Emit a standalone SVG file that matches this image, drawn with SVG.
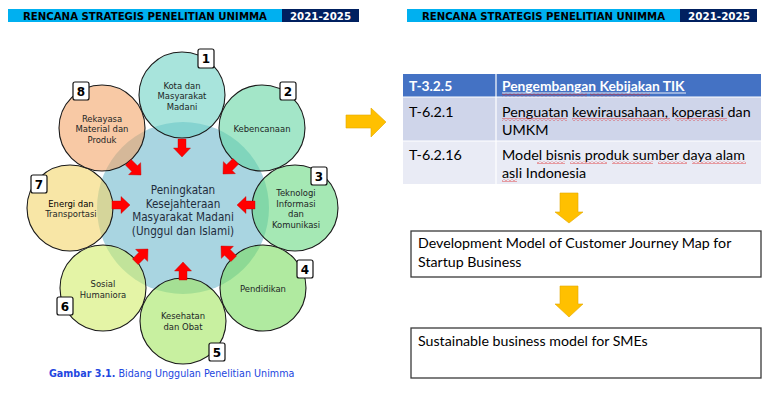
<svg xmlns="http://www.w3.org/2000/svg" width="767" height="397" viewBox="0 0 767 397">
  <style>
    .hdr-l { fill: #00b0f0; }
    .hdr-d { fill: #002060; }
    .hdr-t { font-family: "DejaVu Sans", Verdana, sans-serif; font-weight: bold; font-size: 9.8px; fill: #000; }
    .hdr-y { font-family: "DejaVu Sans", Verdana, sans-serif; font-weight: bold; font-size: 10px; fill: #fff; }
    .sat { stroke: #1a1a1a; stroke-width: 1.1; fill-opacity: 0.6; }
    .lbl { font-family: "DejaVu Sans Condensed", "DejaVu Sans", sans-serif; font-size: 9.4px; fill: #1c2626; text-anchor: middle; }
    .ctr { font-family: "DejaVu Sans Condensed", "DejaVu Sans", sans-serif; font-size: 11.6px; fill: #1f2d3d; text-anchor: middle; }
    .badge { fill: #fff; stroke: #111; stroke-width: 1.2; }
    .num { font-family: "DejaVu Sans", sans-serif; font-weight: bold; font-size: 12px; fill: #000; text-anchor: middle; }
    .red { fill: #ff0000; stroke: #c00000; stroke-width: 0.4; }
    .gold { fill: #ffc000; stroke: #e3a800; stroke-width: 0.6; }
    .cap { font-family: "DejaVu Sans", sans-serif; font-size: 9.6px; fill: #2346e0; }
    .tb { font-family: Lato, "Open Sans", sans-serif; font-size: 14.3px; fill: #000; }
    .tbh { font-family: Lato, "Open Sans", sans-serif; font-size: 13.8px; font-weight: bold; fill: #fff; }
    .box { fill: #fff; stroke: #3a3a3a; stroke-width: 1.3; }
    .bt { font-family: Lato, "Open Sans", sans-serif; font-size: 14.2px; fill: #000; }
  </style>
  <defs>
    <!-- inward block arrow, tip at origin, pointing +x -->
    <path id="arw" d="M0,0 L-9,-8.5 L-9,-4 L-18,-4 L-18,4 L-9,4 L-9,8.5 Z"/>
    <!-- spell-check squiggle -->
    <pattern id="squig" width="4" height="3" patternUnits="userSpaceOnUse">
      <path d="M0,2.5 L2,0.5 L4,2.5" fill="none" stroke="#e02020" stroke-width="0.8"/>
    </pattern>
  </defs>

  <!-- left header bar -->
  <g id="header-left">
    <rect class="hdr-l" x="8" y="9" width="274" height="13"/>
    <rect class="hdr-d" x="282" y="9" width="77" height="13"/>
    <text class="hdr-t" x="23" y="19.5" textLength="244" lengthAdjust="spacingAndGlyphs">RENCANA STRATEGIS PENELITIAN UNIMMA</text>
    <text class="hdr-y" x="290" y="19.5" textLength="61" lengthAdjust="spacingAndGlyphs">2021-2025</text>
  </g>

  <!-- right header bar -->
  <g id="header-right">
    <rect class="hdr-l" x="407" y="9" width="273" height="13"/>
    <rect class="hdr-d" x="680" y="9" width="77" height="13"/>
    <text class="hdr-t" x="422" y="19.5" textLength="243" lengthAdjust="spacingAndGlyphs">RENCANA STRATEGIS PENELITIAN UNIMMA</text>
    <text class="hdr-y" x="688" y="19.5" textLength="62" lengthAdjust="spacingAndGlyphs">2021-2025</text>
  </g>

  <!-- central focus -->
  <g id="center">
    <circle cx="183" cy="208" r="86" fill="#a9d5e1"/>
    <text class="ctr" x="183" y="194">Peningkatan</text>
    <text class="ctr" x="183" y="207.5">Kesejahteraan</text>
    <text class="ctr" x="183" y="221">Masyarakat Madani</text>
    <text class="ctr" x="183" y="234.5">(Unggul dan Islami)</text>
  </g>

  <!-- research fields -->
  <g id="field-1">
    <circle class="sat" cx="182" cy="95" r="43" fill="#6ed2c5"/>
    <text class="lbl" x="182" y="88.5">Kota dan</text>
    <text class="lbl" x="182" y="99">Masyarakat</text>
    <text class="lbl" x="182" y="110">Madani</text>
    <rect class="badge" x="198" y="49" width="16" height="19" rx="2"/>
    <text class="num" x="206" y="63">1</text>
  </g>
  <g id="field-2">
    <circle class="sat" cx="262" cy="128" r="43" fill="#66d5a3"/>
    <text class="lbl" x="262" y="131.5">Kebencanaan</text>
    <rect class="badge" x="280" y="82" width="16" height="18" rx="2"/>
    <text class="num" x="288" y="95.5">2</text>
  </g>
  <g id="field-3">
    <circle class="sat" cx="295" cy="208" r="43" fill="#69d982"/>
    <text class="lbl" x="296" y="196">Teknologi</text>
    <text class="lbl" x="296" y="206.5">Informasi</text>
    <text class="lbl" x="296" y="217">dan</text>
    <text class="lbl" x="296" y="228">Komunikasi</text>
    <rect class="badge" x="311" y="167" width="16" height="18" rx="2"/>
    <text class="num" x="319" y="180.5">3</text>
  </g>
  <g id="field-4">
    <circle class="sat" cx="263" cy="288" r="43" fill="#7bdc61"/>
    <text class="lbl" x="263" y="291.5">Pendidikan</text>
    <rect class="badge" x="297" y="260" width="16" height="18" rx="2"/>
    <text class="num" x="305" y="273.5">4</text>
  </g>
  <g id="field-5">
    <circle class="sat" cx="183" cy="321" r="43" fill="#a3e661"/>
    <text class="lbl" x="183" y="318.5">Kesehatan</text>
    <text class="lbl" x="183" y="330">dan Obat</text>
    <rect class="badge" x="209" y="343" width="16" height="18" rx="2"/>
    <text class="num" x="217" y="356.5">5</text>
  </g>
  <g id="field-6">
    <circle class="sat" cx="103" cy="288" r="43" fill="#d2ed6b"/>
    <text class="lbl" x="103" y="286.5">Sosial</text>
    <text class="lbl" x="103" y="297.5">Humaniora</text>
    <rect class="badge" x="57" y="297" width="16" height="18" rx="2"/>
    <text class="num" x="65" y="310.5">6</text>
  </g>
  <g id="field-7">
    <circle class="sat" cx="70" cy="208" r="43" fill="#f3d56b"/>
    <text class="lbl" x="71" y="206.5" style="fill:#000">Energi dan</text>
    <text class="lbl" x="71" y="217">Transportasi</text>
    <rect class="badge" x="31" y="175" width="16" height="18" rx="2"/>
    <text class="num" x="39" y="188.5">7</text>
  </g>
  <g id="field-8">
    <circle class="sat" cx="102" cy="128" r="43" fill="#f3a569"/>
    <text class="lbl" x="102" y="121.5">Rekayasa</text>
    <text class="lbl" x="102" y="132">Material dan</text>
    <text class="lbl" x="102" y="142.5">Produk</text>
    <rect class="badge" x="73" y="82" width="16" height="18" rx="2"/>
    <text class="num" x="81" y="95.5">8</text>
  </g>

  <!-- arrows from each field into the centre -->
  <g id="connectors">
    <use href="#arw" class="red" transform="translate(182,157) rotate(90)"/>
    <use href="#arw" class="red" transform="translate(223,174) rotate(135)"/>
    <use href="#arw" class="red" transform="translate(237,205) rotate(180)"/>
    <use href="#arw" class="red" transform="translate(221,246) rotate(-135)"/>
    <use href="#arw" class="red" transform="translate(183,262) rotate(-90)"/>
    <use href="#arw" class="red" transform="translate(148,249) rotate(-45)"/>
    <use href="#arw" class="red" transform="translate(130,205) rotate(0)"/>
    <use href="#arw" class="red" transform="translate(141,175) rotate(45)"/>

    <!-- link to the roadmap -->
    <path class="gold" d="M346,115 L371,115 L371,108 L386,122 L371,137 L371,128 L346,128 Z"/>
    <!-- roadmap flow -->
    <path class="gold" d="M560,193 L578,193 L578,212 L583,212 L569,223 L555,212 L560,212 Z"/>
    <path class="gold" d="M560,286 L578,286 L578,304 L583,304 L569,317 L555,304 L560,304 Z"/>
  </g>

  <!-- caption -->
  <text class="cap" x="49" y="377"><tspan font-weight="bold">Gambar 3.1.</tspan> Bidang Unggulan Penelitian Unimma</text>

  <!-- strategy table -->
  <g id="strategy-table">
    <rect x="403" y="74" width="358" height="23" fill="#4472c4"/>
    <rect x="403" y="97" width="358" height="44" fill="#cfd5ea"/>
    <rect x="403" y="141" width="358" height="43" fill="#e9ebf5"/>
    <line x1="403" y1="97" x2="761" y2="97" stroke="#fff" stroke-width="1.2"/>
    <line x1="403" y1="141" x2="761" y2="141" stroke="#fff" stroke-width="1.2"/>
    <line x1="496" y1="74" x2="496" y2="184" stroke="#fff" stroke-width="1.2"/>

    <text class="tbh" x="409" y="91">T-3.2.5</text>
    <text class="tbh" x="502" y="91">Pengembangan Kebijakan TIK</text>
    <line x1="502" y1="93" x2="686" y2="93" stroke="#fff" stroke-width="0.9"/>
    <rect x="502" y="93.5" width="85" height="3" fill="url(#squig)"/>
    <rect x="590" y="93.5" width="60" height="3" fill="url(#squig)"/>

    <text class="tb" x="409" y="117">T-6.2.1</text>
    <text class="tb" x="502" y="117">Penguatan kewirausahaan, koperasi dan</text>
    <text class="tb" x="502" y="135">UMKM</text>
    <rect x="502" y="118" width="65" height="3" fill="url(#squig)"/>
    <rect x="572" y="118" width="98" height="3" fill="url(#squig)"/>
    <rect x="675" y="118" width="52" height="3" fill="url(#squig)"/>

    <text class="tb" x="409" y="160">T-6.2.16</text>
    <text class="tb" x="502" y="160">Model bisnis produk sumber daya alam</text>
    <text class="tb" x="502" y="178">asli Indonesia</text>
    <rect x="537" y="161" width="28" height="3" fill="url(#squig)"/>
    <rect x="570" y="161" width="37" height="3" fill="url(#squig)"/>
    <rect x="612" y="161" width="41" height="3" fill="url(#squig)"/>
    <rect x="658" y="161" width="29" height="3" fill="url(#squig)"/>
    <rect x="692" y="161" width="54" height="3" fill="url(#squig)"/>
    <rect x="502" y="179" width="15" height="3" fill="url(#squig)"/>
  </g>

  <!-- roadmap outputs -->
  <g id="output-1">
    <rect class="box" x="411" y="231" width="350" height="46"/>
    <text class="bt" x="418" y="248">Development Model of Customer Journey Map for</text>
    <text class="bt" x="418" y="267">Startup Business</text>
  </g>
  <g id="output-2">
    <rect class="box" x="411" y="328" width="350" height="50"/>
    <text class="bt" x="418" y="346">Sustainable business model for SMEs</text>
  </g>
</svg>
